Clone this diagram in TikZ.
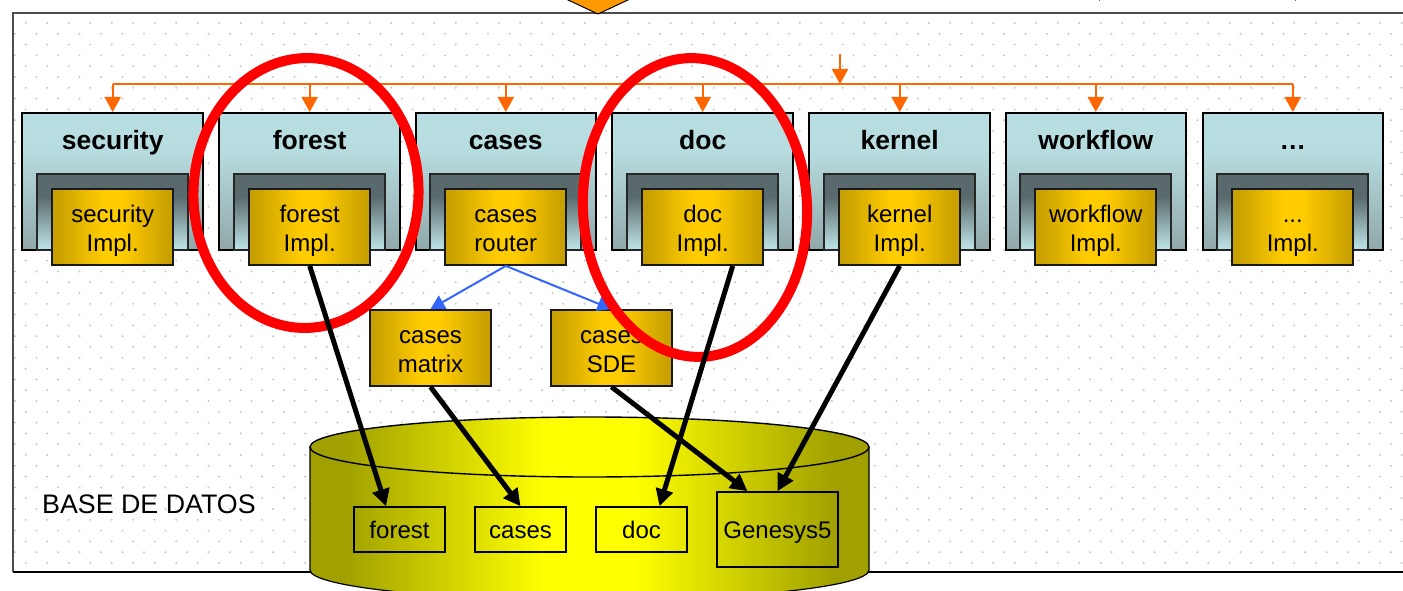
\documentclass[tikz,border=0pt]{standalone}
\usepackage{fontspec}
\setmainfont{Liberation Sans}
\usetikzlibrary{arrows.meta,shapes.geometric}
\definecolor{teal1}{HTML}{B8DDE0}
\definecolor{teal2}{HTML}{90A8AA}
\definecolor{teal3}{HTML}{5A6A6C}
\definecolor{gold1}{HTML}{C8A000}
\definecolor{gold2}{HTML}{FFCC00}
\definecolor{orng}{HTML}{FF6600}
\definecolor{blu}{HTML}{3366FF}
\definecolor{olive}{HTML}{A0A000}
\definecolor{pointerfill}{HTML}{FF9900}
\def\threedots{...}
\newcommand{\twolines}[2]{\rule{0pt}{25pt}#1\\#2\rule[-6pt]{0pt}{6pt}}
\pgfdeclareverticalshading{outershade}{100bp}{color(0bp)=(teal2);color(25bp)=(teal2);color(62bp)=(teal1);color(100bp)=(teal1)}
\pgfdeclareverticalshading{innershade}{100bp}{color(0bp)=(teal1);color(28bp)=(teal1);color(60bp)=(teal3);color(100bp)=(teal3)}
\pgfdeclarehorizontalshading{goldshade}{100bp}{color(0bp)=(gold1);color(27bp)=(gold1);color(46bp)=(gold2);color(54bp)=(gold2);color(73bp)=(gold1);color(100bp)=(gold1)}
\pgfdeclarehorizontalshading{dbshade}{100bp}{color(0bp)=(olive);color(28bp)=(olive);color(46bp)=(yellow);color(54bp)=(yellow);color(72bp)=(olive);color(100bp)=(olive)}
\tikzset{
  x=1pt,y=-1pt,
  outerbox/.style={draw=black,line width=2pt,shading=outershade,minimum width=180.5pt,minimum height=137pt,inner sep=0pt,anchor=center},
  innerbox/.style={draw=black!85,line width=1.8pt,shading=innershade,minimum width=151pt,minimum height=76pt,inner sep=0pt,anchor=center},
  goldbox/.style={draw=black!90,line width=1.8pt,shading=goldshade,minimum width=121pt,minimum height=76pt,inner sep=0pt,anchor=center,align=center,font=\fontsize{24}{29}\selectfont},
  titletext/.style={font=\bfseries\fontsize{26.5}{30}\selectfont,inner sep=0pt,anchor=center,text height=19pt,text depth=3pt},
  dbbox/.style={draw=black,line width=1.6pt,minimum height=45pt,minimum width=91pt,inner sep=0pt,anchor=center,font=\fontsize{24}{29}\selectfont,text height=21pt,text depth=3pt},
  busline/.style={draw=orng,line width=2.2pt},
  busarrow/.style={draw=orng,line width=2.2pt,-{Triangle[length=15pt,width=16pt,fill=orng]}},
  bluearrow/.style={draw=blu,line width=2pt,-{Triangle[length=14pt,width=15pt,fill=blu]}},
  blackarrow/.style={draw=black,line width=5pt,-{Triangle[length=17pt,width=17pt,fill=black]}},
  redring/.style={draw=red,line width=10pt},
}
\begin{document}
\begin{tikzpicture}
\useasboundingbox (0,0) rectangle (1403,591);
\clip (0,0) rectangle (1403,591);
\fill[white] (0,0) rectangle (1403,591);
% dotted texture
\foreach \r in {0,...,50}{
  \pgfmathsetmacro{\yy}{23+10.8*\r}
  \pgfmathsetmacro{\xo}{mod(\r,2)==0 ? 25.7 : 15}
  \foreach \c in {0,...,65}{
    \fill[black!22] ({\xo+21.5*\c},\yy) circle (1.1pt);
  }
}
% page frame
\fill[white] (0,572) rectangle (1403,591);
\fill[white] (0,0) rectangle (13,591);
\fill[white] (0,0) rectangle (1403,13);
\draw[black!70,line width=2pt] (13,572) -- (13,13) -- (1403,13);
\draw[black,line width=1.2pt] (13,572) -- (1403,572);
\draw[black,line width=1pt,fill=pointerfill] (566,-1) -- (598,14) -- (630,-1);
\draw[black!60,line width=1pt] (1099,0) -- (1099,1.5) (1295,0) -- (1295,1.5);
% modules
\foreach \n/\x/\t/\a/\b in {
  sec/112.7/security/security/Impl.,
  for/309.7/forest/forest/Impl.,
  cas/505.8/cases/cases/router,
  doc/702.7/doc/doc/Impl.,
  ker/899.7/kernel/kernel/Impl.,
  wor/1095.8/workflow/workflow/Impl.,
  etc/1292.8/…/\threedots/Impl.}{
  \node[outerbox] (\n outer) at (\x,181.5) {};
  \node[titletext] (\n title) at (\x,141.5) {\t};
  \node[innerbox] (\n inner) at (\x,212) {};
  \node[goldbox] (\n impl) at (\x,227) {\twolines{\a}{\b}};
}
% orange bus
\coordinate (busL) at (113,84);
\coordinate (busR) at (1293,84);
\coordinate (busIn) at (840,54);
\draw[busline] (busL) -- (busR);
\draw[busarrow] (busIn) -- (busIn |- busL);
\foreach \n in {sec,for,cas,doc,ker,wor,etc}{
  \draw[busarrow] (\n outer.north |- busL) -- (\n outer.north);
}
% second tier
\node[goldbox] (matrix) at (430.5,348) {\twolines{cases}{matrix}};
\node[goldbox] (sde) at (611.5,348) {\twolines{cases}{SDE}};
\draw[bluearrow] (casimpl.south) -- (matrix.north);
\draw[bluearrow] (casimpl.south) -- (sde.north);
% database
\path[shading=dbshade] (310,447) arc[start angle=180,end angle=0,x radius=279.5pt,y radius=30pt] -- (869,570) arc[start angle=0,end angle=-180,x radius=279.5pt,y radius=30pt] -- cycle;
\draw[black,line width=1.2pt] (310,447) -- (310,570) arc[start angle=180,end angle=360,x radius=279.5pt,y radius=30pt] -- (869,447);
\draw[black,line width=1.4pt] (589.5,447) ellipse[x radius=279.5pt,y radius=30pt];
\node[dbbox] (dbforest) at (399.5,529.5) {forest};
\node[dbbox] (dbcases) at (520.5,529.5) {cases};
\node[dbbox] (dbdoc) at (641.5,529.5) {doc};
\node[dbbox,minimum width=121pt,minimum height=75pt] (dbgen) at (777.5,529.5) {Genesys5};
\node[font=\fontsize{26.8}{30}\selectfont,inner sep=0pt,anchor=west] (dblabel) at (42,504) {BASE DE DATOS};
% highlight rings
\node[ellipse,redring,minimum width=225pt,minimum height=270pt,inner sep=0pt,rotate=-2] (ringA) at (306,193) {};
\node[ellipse,redring,minimum width=224pt,minimum height=299pt,inner sep=0pt,rotate=3] (ringB) at (695,207.5) {};
% data links
\draw[blackarrow] (forimpl.south) -- ([xshift=-13.5pt]dbforest.north);
\draw[blackarrow] (matrix.south) -- (dbcases.north);
\draw[blackarrow] (sde.south) -- ([xshift=-30pt]dbgen.north);
\draw[blackarrow] ([xshift=30pt]docimpl.south) -- ([xshift=18pt]dbdoc.north);
\draw[blackarrow] (kerimpl.south) -- (dbgen.north);
\end{tikzpicture}
\end{document}
